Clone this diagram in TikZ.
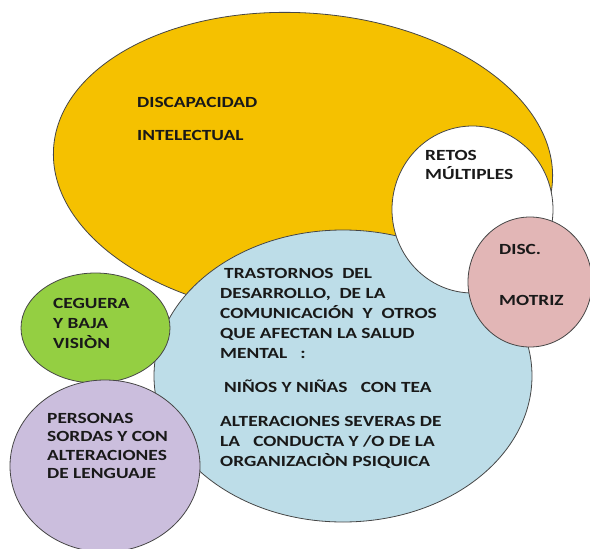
\documentclass[tikz,border=0pt]{standalone}
\usepackage{fontspec}
\newfontfamily\lblfont{Carlito}[FakeStretch=1.25]
\usetikzlibrary{positioning}
\definecolor{intelyellow}{RGB}{245,193,0}
\definecolor{tgdblue}{RGB}{189,221,232}
\definecolor{motrizpink}{RGB}{226,182,182}
\definecolor{visiongreen}{RGB}{148,207,66}
\definecolor{sordaspurple}{RGB}{203,190,221}
\definecolor{outline}{RGB}{70,70,70}

\begin{document}
\begin{tikzpicture}[
    x=1pt, y=-1pt,
    blob/.style={draw=outline, line width=0.8pt},
    lbl/.style={font=\lblfont\bfseries\fontsize{15.5}{20}\selectfont, align=left,
                anchor=north west, inner sep=0pt, text=black!90},
]
\useasboundingbox (0,0) rectangle (590,549);

% ============================================================
% Background ellipses
% ============================================================
% Discapacidad intelectual (big, slightly tilted)
\draw[blob, fill=intelyellow, rotate around={-4:(303,165)}]
    (303,165) ellipse [x radius=250, y radius=152];
% Trastornos del desarrollo
\draw[blob, fill=tgdblue] (343,376) ellipse [x radius=189, y radius=146];
% Retos multiples
\draw[blob, fill=white] (472.5,209.5) ellipse [x radius=80.5, y radius=83.5];
% Discapacidad motriz
\draw[blob, fill=motrizpink] (530,282) ellipse [x radius=62, y radius=65];
% Ceguera y baja vision
\draw[blob, fill=visiongreen] (95.5,328) ellipse [x radius=74.5, y radius=55];
% Personas sordas
\draw[blob, fill=sordaspurple] (105,466) ellipse [x radius=95, y radius=86];

% ============================================================
% Labels
% ============================================================
\node[lbl] (intel) at (137,97) {DISCAPACIDAD\\[13pt]INTELECTUAL};
\node[lbl, font=\lblfont\bfseries\fontsize{15.5}{19}\selectfont] (retos) at (425,150) {RETOS\\MÚLTIPLES};
\node[lbl] (motriz) at (499,244) {DISC.\\[31pt]MOTRIZ};

\node[lbl] (tgd) at (220,268) {%
    \hspace*{4pt}TRASTORNOS\ \ DEL\\
    DESARROLLO,\ \ DE LA\\
    COMUNICACIÓN\ \ Y\ \ OTROS\\
    QUE AFECTAN LA SALUD\\
    MENTAL\ \ \ :\\[14pt]
    \hspace*{4pt}NIÑOS Y NIÑAS\ \ \ CON TEA\\[14pt]
    ALTERACIONES SEVERAS DE\\
    LA\ \ \ CONDUCTA Y /O DE LA\\
    ORGANIZACIÒN PSIQUICA};

\node[lbl] (vision) at (53,298) {CEGUERA\\Y BAJA\\VISIÒN};
\node[lbl, font=\lblfont\bfseries\fontsize{15.5}{18.5}\selectfont] (sordas) at (47,413)
    {PERSONAS\\SORDAS Y CON\\ALTERACIONES\\DE LENGUAJE};

\end{tikzpicture}
\end{document}
